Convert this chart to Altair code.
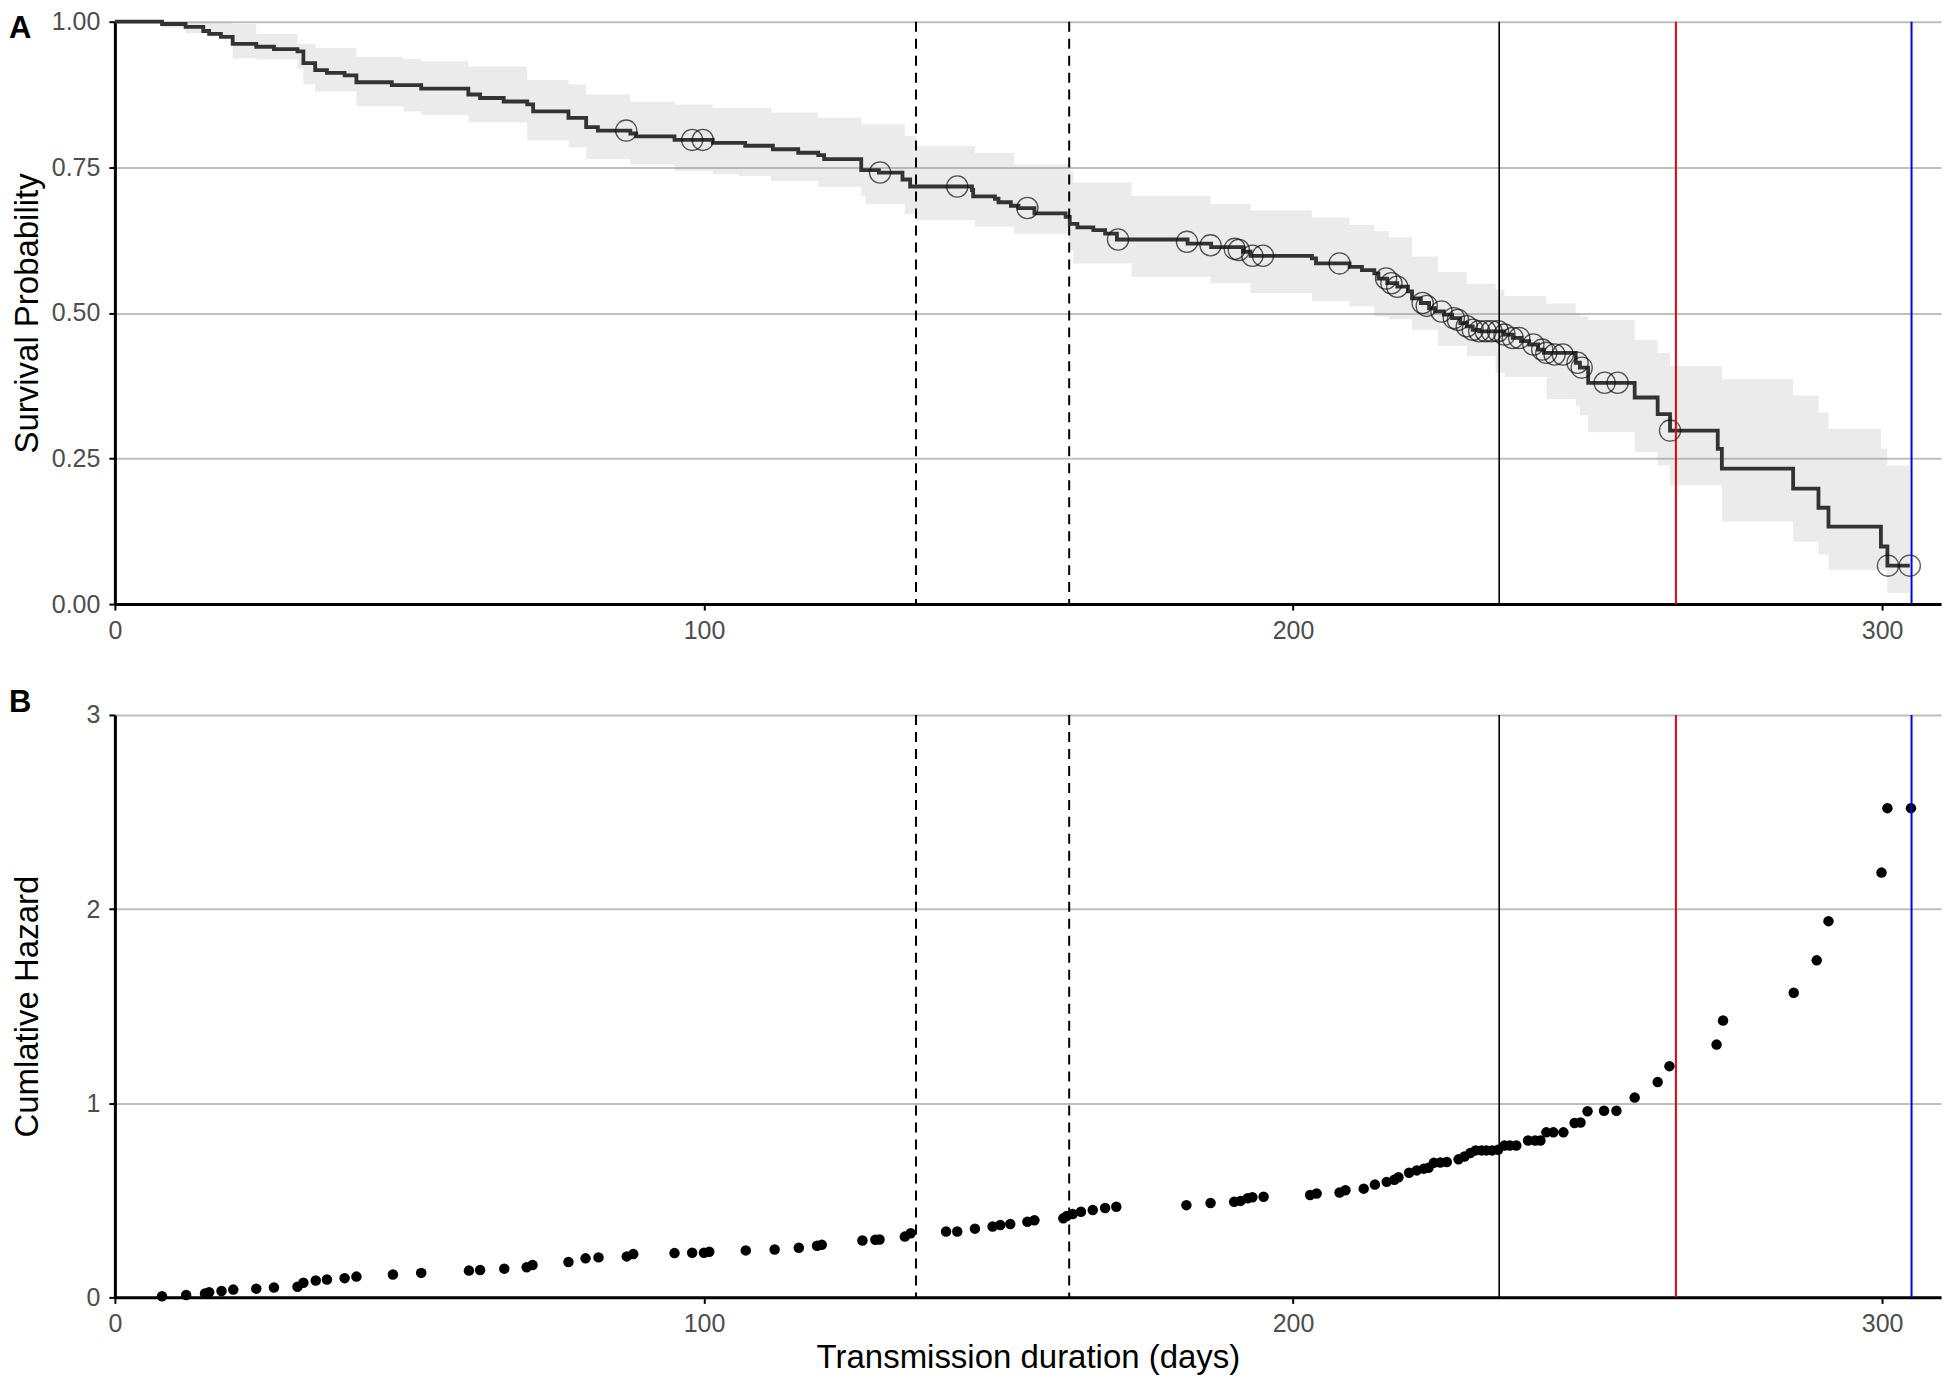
import altair as alt
import pandas as pd

# ---------------- data ----------------
km_time = [0, 8, 12, 15, 16, 18, 20, 24, 27, 31, 32, 34, 36, 39, 41, 47, 52, 60, 62, 66,
           70, 71, 77, 80, 82, 87.5, 88.5, 95, 101.5, 107, 111.7, 116, 119.4, 120.4, 126.7,
           129.7, 133.7, 135, 145.5, 145.7, 149.4, 150, 152.1, 153.4, 156.1, 161.4, 162.1,
           163.4, 166.1, 168.1, 170.1, 182.1, 186.1, 191.5, 192.8, 203.2, 203.9, 209.6,
           211.7, 213.8, 214.5, 216, 217.7, 219.5, 220.2, 221.7, 223.1, 224.1, 225.6, 227,
           228.4, 229.5, 230.5, 231.6, 235.9, 237.3, 238.7, 240.1, 241.6, 242.6, 248, 248.7,
           250.1, 258, 261.9, 264, 272.1, 272.8, 284.9, 289.2, 290.9, 299.8, 300.9, 304.7]
km_surv = [1.0, 0.996, 0.991, 0.984, 0.979, 0.974, 0.962, 0.957, 0.953, 0.949, 0.929, 0.917,
           0.912, 0.908, 0.896, 0.891, 0.885, 0.875, 0.869, 0.863, 0.858, 0.846, 0.835, 0.819,
           0.813, 0.808, 0.803, 0.797, 0.792, 0.787, 0.781, 0.775, 0.771, 0.764, 0.745, 0.741,
           0.729, 0.717, 0.711, 0.700, 0.696, 0.690, 0.684, 0.680, 0.671, 0.665, 0.653, 0.647,
           0.642, 0.636, 0.626, 0.619, 0.613, 0.605, 0.598, 0.5935, 0.585, 0.579, 0.5736,
           0.568, 0.559, 0.551, 0.545, 0.537, 0.525, 0.517, 0.508, 0.5025, 0.497, 0.491,
           0.4826, 0.477, 0.471, 0.4684, 0.4627, 0.457, 0.4514, 0.4457, 0.437, 0.4314,
           0.4144, 0.406, 0.380, 0.3547, 0.3263, 0.2979, 0.2666, 0.2325, 0.1984, 0.1654,
           0.133, 0.0989, 0.066, 0.066]

ci_time = [0, 8, 12, 16, 20, 24, 31, 32, 34, 41, 49, 52, 60, 70, 77, 80, 87.5, 95, 101.5,
           106, 111.4, 119.4, 126.7, 127.4, 134.1, 136, 146, 152.7, 162, 162.7, 172.6, 186,
           192.8, 203.2, 209.6, 213.8, 216.3, 220.2, 224.6, 229.5, 234.4, 235.9, 243, 248,
           248.7, 250.1, 258, 261.9, 264, 272.8, 284.9, 289.2, 290.9, 299.8, 300.9, 304.7]
ci_lower = [1.0, 0.990, 0.980, 0.974, 0.937, 0.935, 0.920, 0.892, 0.880, 0.855, 0.846, 0.840,
            0.827, 0.796, 0.784, 0.764, 0.755, 0.744, 0.738, 0.735, 0.727, 0.716, 0.701,
            0.687, 0.670, 0.659, 0.648, 0.636, 0.608, 0.585, 0.562, 0.551, 0.534, 0.520,
            0.511, 0.494, 0.489, 0.471, 0.443, 0.426, 0.397, 0.390, 0.352, 0.340, 0.324,
            0.295, 0.261, 0.238, 0.204, 0.142, 0.107, 0.085, 0.059, 0.059, 0.019, 0.019]
ci_upper = [1.0, 1.0, 1.0, 0.998, 0.996, 0.979, 0.962, 0.962, 0.955, 0.940, 0.936, 0.932,
            0.923, 0.900, 0.892, 0.875, 0.863, 0.858, 0.852, 0.852, 0.844, 0.835, 0.824,
            0.824, 0.804, 0.787, 0.775, 0.755, 0.744, 0.724, 0.701, 0.687, 0.676, 0.664,
            0.651, 0.640, 0.630, 0.597, 0.570, 0.550, 0.540, 0.529, 0.516, 0.500, 0.494,
            0.488, 0.454, 0.431, 0.409, 0.386, 0.358, 0.329, 0.301, 0.267, 0.238, 0.238]

cens_time = [86.8, 98.0, 99.8, 129.9, 143.0, 154.9, 170.3, 182.0, 186.0, 190.1, 190.8, 193.1,
             194.9, 207.9, 215.8, 216.7, 217.7, 222.0, 222.7, 225.2, 227.3, 228.0, 229.5,
             230.5, 231.6, 232.7, 233.7, 234.8, 235.9, 237.3, 238.4, 240.8, 242.3, 243.0,
             244.4, 245.8, 248.3, 249.0, 252.9, 255.1, 264.0, 301.0, 304.7]
cens_surv = [0.813, 0.797, 0.797, 0.741, 0.717, 0.680, 0.626, 0.622, 0.616, 0.610, 0.608,
             0.598, 0.598, 0.585, 0.559, 0.551, 0.545, 0.517, 0.512, 0.5025, 0.491, 0.488,
             0.477, 0.471, 0.4684, 0.4684, 0.4684, 0.4684, 0.4627, 0.457, 0.457, 0.4457,
             0.437, 0.4314, 0.4286, 0.4286, 0.4144, 0.406, 0.380, 0.380, 0.2979, 0.066, 0.066]

haz_time = [8.0, 12.1, 15.3, 16.0, 18.1, 20.1, 24.0, 27.0, 31.0, 32.0, 34.1, 36.0, 39.0, 41.0,
            47.2, 52.0, 60.1, 62.0, 66.1, 69.9, 70.9, 77.0, 79.9, 82.1, 86.9, 88.0, 95.0, 98.0,
            100.0, 100.9, 107.1, 112.0, 116.1, 119.2, 120.0, 126.9, 129.1, 129.8, 134.1, 135.1,
            141.1, 143.0, 146.0, 149.0, 150.3, 152.0, 154.9, 156.1, 161.0, 161.6, 162.6, 164.0,
            166.0, 168.1, 170.0, 181.9, 186.0, 190.0, 191.1, 192.3, 193.1, 195.0, 202.9, 204.0,
            207.9, 208.9, 212.0, 213.9, 215.9, 217.2, 217.9, 219.7, 221.0, 222.2, 223.0, 223.9,
            225.0, 226.1, 228.1, 229.1, 230.1, 231.0, 232.0, 232.8, 233.8, 234.8, 235.9, 236.8,
            237.9, 239.9, 241.1, 242.0, 243.0, 244.2, 245.9, 247.8, 248.8, 250.0, 252.8, 254.9,
            258.0, 261.9, 263.9, 271.9, 273.0, 285.0, 288.9, 290.9, 299.9, 300.9, 304.9]
haz_value = [0.006, 0.012, 0.020, 0.026, 0.033, 0.040, 0.045, 0.051, 0.055, 0.075, 0.087,
             0.092, 0.099, 0.107, 0.118, 0.126, 0.138, 0.141, 0.148, 0.155, 0.167, 0.182,
             0.201, 0.206, 0.211, 0.223, 0.228, 0.230, 0.230, 0.235, 0.242, 0.247, 0.256,
             0.266, 0.271, 0.293, 0.297, 0.298, 0.313, 0.330, 0.339, 0.339, 0.354, 0.365,
             0.373, 0.378, 0.389, 0.397, 0.407, 0.419, 0.429, 0.441, 0.450, 0.460, 0.467,
             0.475, 0.486, 0.492, 0.497, 0.511, 0.516, 0.518, 0.527, 0.535, 0.540, 0.552,
             0.560, 0.581, 0.595, 0.606, 0.619, 0.642, 0.654, 0.663, 0.668, 0.693, 0.695,
             0.697, 0.711, 0.726, 0.744, 0.757, 0.757, 0.757, 0.757, 0.760, 0.782, 0.782,
             0.782, 0.808, 0.808, 0.808, 0.850, 0.850, 0.850, 0.898, 0.901, 0.959, 0.961,
             0.961, 1.029, 1.109, 1.191, 1.302, 1.426, 1.569, 1.736, 1.938, 2.188, 2.520, 2.520]

dashed_days = [136, 162]
black_days = [235]
red_days = [265]
blue_days = [305]

x_ticks = [0, 100, 200, 300]
surv_ticks = [0, 0.25, 0.5, 0.75, 1.0]
haz_ticks = [0, 1, 2, 3]

# ---------------- chart ----------------
W, H = 1828, 583
x_scale = alt.Scale(domain=[0, 310], nice=False, zero=False)


def x_enc(title=None):
    return alt.X("t:Q", scale=x_scale,
                 axis=alt.Axis(values=x_ticks, format="d", grid=False, title=title))


y_surv_scale = alt.Scale(domain=[0, 1], nice=False)
y_surv_axis = alt.Axis(values=surv_ticks, format=".2f", grid=True, title="Survival Probability")
y_haz_scale = alt.Scale(domain=[0, 3], nice=False)
y_haz_axis = alt.Axis(values=haz_ticks, format="d", grid=True, title="Cumlative Hazard")


def rules(xenc):
    d = alt.Chart(pd.DataFrame({"t": dashed_days})).mark_rule(
        color="black", strokeWidth=2, strokeDash=[10, 7]).encode(x=xenc)
    b = alt.Chart(pd.DataFrame({"t": black_days})).mark_rule(
        color="black", strokeWidth=1.6).encode(x=xenc)
    r = alt.Chart(pd.DataFrame({"t": red_days})).mark_rule(
        color="#E8000B", strokeWidth=2).encode(x=xenc)
    bl = alt.Chart(pd.DataFrame({"t": blue_days})).mark_rule(
        color="#0000E6", strokeWidth=2).encode(x=xenc)
    return [d, b, r, bl]


def panel_label(letter, yv):
    return alt.Chart(pd.DataFrame({"lab": [letter]})).mark_text(
        align="left", baseline="alphabetic", fontSize=31, fontWeight="bold",
        color="black", font="Liberation Sans").encode(
        text="lab:N", x=alt.value(-106), y=alt.value(yv))


xt = x_enc(None)
band = alt.Chart(pd.DataFrame({"t": ci_time, "lo": ci_lower, "hi": ci_upper})).mark_area(
    interpolate="step-after", color="#999999", opacity=0.2).encode(
    x=xt, y=alt.Y("lo:Q", scale=y_surv_scale, axis=y_surv_axis), y2="hi:Q")
km_line = alt.Chart(pd.DataFrame({"t": km_time, "s": km_surv})).mark_line(
    interpolate="step-after", color="#333333", strokeWidth=3.8).encode(
    x=xt, y=alt.Y("s:Q", scale=y_surv_scale, axis=y_surv_axis))
cens = alt.Chart(pd.DataFrame({"t": cens_time, "s": cens_surv})).mark_point(
    shape="circle", filled=False, size=450, color="#111111", strokeWidth=1.3).encode(
    x=xt, y=alt.Y("s:Q", scale=y_surv_scale, axis=y_surv_axis))

top = alt.layer(band, km_line, cens, *rules(xt), panel_label("A", 16)).properties(
    width=W, height=H)

xb = x_enc("Transmission duration (days)")
haz = alt.Chart(pd.DataFrame({"t": haz_time, "h": haz_value})).mark_circle(
    size=110, color="black", opacity=1).encode(
    x=xb, y=alt.Y("h:Q", scale=y_haz_scale, axis=y_haz_axis))

bottom = alt.layer(haz, *rules(xb), panel_label("B", -3)).properties(width=W, height=H)

chart = alt.vconcat(top, bottom, spacing=111).properties(
    padding=0, bounds="flush"
).configure(font="Liberation Sans").configure_view(
    stroke="transparent"
).configure_axis(
    labelFontSize=25, labelColor="#4D4D4D", titleFontSize=33, titleColor="black",
    titleFontWeight="normal", tickColor="black", tickWidth=2, tickSize=6,
    domainColor="black", domainWidth=3, gridColor="#BEBEBE", gridWidth=2,
    labelFont="Liberation Sans", titleFont="Liberation Sans", labelFlush=False
).configure_axisX(
    labelPadding=8, titlePadding=5
).configure_axisY(
    labelPadding=9, titlePadding=8, minExtent=62, maxExtent=62
)

chart.save("out.html", embed_options={"renderer": "svg", "actions": False})
